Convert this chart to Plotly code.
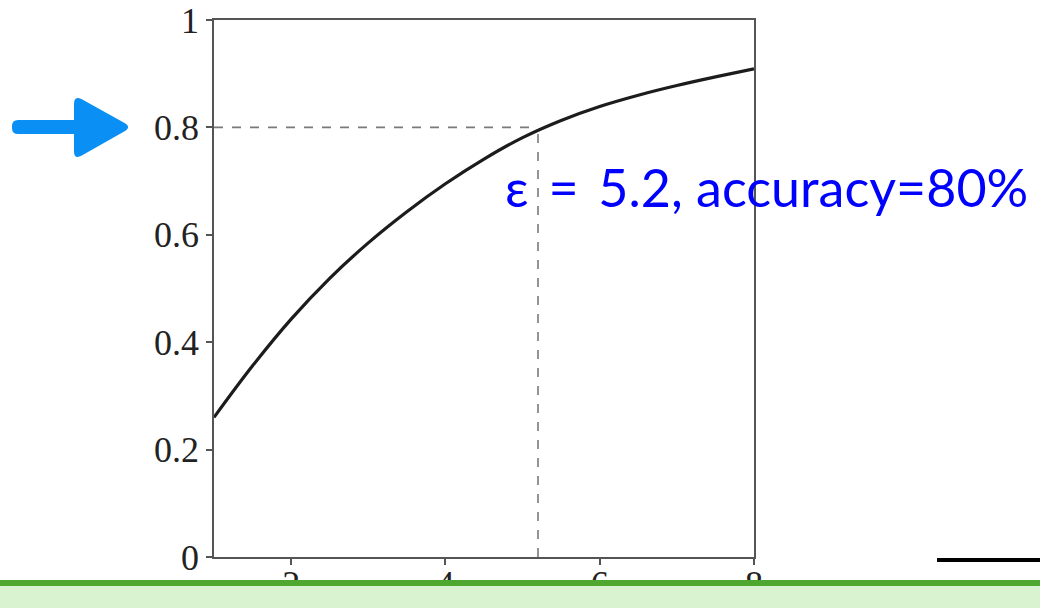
import plotly.graph_objects as go

# privacy budget vs. accuracy curve
eps = [1.0, 1.5, 2.0, 2.5, 3.0, 3.5, 4.0, 4.5, 5.0, 5.5, 6.0, 6.5, 7.0, 7.5, 8.0]
accuracy = [0.26, 0.356, 0.443, 0.519, 0.585, 0.643, 0.695, 0.741, 0.781, 0.813, 0.839, 0.86, 0.878, 0.894, 0.909]

# highlighted operating point
eps_mark = 5.2
acc_mark = 0.8
mark_label = "ε\u2009 = \u20095.2, accuracy=80%"

x_ticks = [2, 4, 6, 8]
y_ticks = [0, 0.2, 0.4, 0.6, 0.8, 1]

W, H = 1040, 608
L, R, T, B = 214, 754, 20, 557  # plot area in pixels


def px(x):
    return (x - L) / (R - L)


def py(y):
    return (B - y) / (B - T)


def rounded_poly(pts, r):
    # polygon with rounded corners (quadratic curves at each vertex)
    n = len(pts)
    segs = []
    for i in range(n):
        p0, p1, p2 = pts[i - 1], pts[i], pts[(i + 1) % n]

        def toward(a, b, d):
            dx, dy = b[0] - a[0], b[1] - a[1]
            ln = (dx * dx + dy * dy) ** 0.5
            return (a[0] + dx / ln * d, a[1] + dy / ln * d)

        segs.append((toward(p1, p0, r), p1, toward(p1, p2, r)))
    d = f"M {px(segs[0][0][0])},{py(segs[0][0][1])}"
    for k, (a, c, b) in enumerate(segs):
        if k > 0:
            d += f" L {px(a[0])},{py(a[1])}"
        d += f" Q {px(c[0])},{py(c[1])} {px(b[0])},{py(b[1])}"
    return d + " Z"


fig = go.Figure()
fig.add_trace(go.Scatter(
    x=eps, y=accuracy, mode="lines",
    line=dict(color="#1c1c1c", width=3.2, shape="spline"),
    hoverinfo="skip", showlegend=False,
))

shapes = [
    # dashed guides to the operating point
    dict(type="line", xref="x", yref="y", x0=eps[0], x1=eps_mark, y0=acc_mark, y1=acc_mark,
         line=dict(color="#7a7a7a", width=1.6, dash="dash")),
    dict(type="line", xref="x", yref="y", x0=eps_mark, x1=eps_mark, y0=0, y1=acc_mark,
         line=dict(color="#7a7a7a", width=1.6, dash="dash")),
    # pointer arrow: shaft and head
    dict(type="path", xref="paper", yref="paper", layer="above",
         path=rounded_poly([(12, 120), (80, 120), (80, 134), (12, 134)], 6),
         fillcolor="#0A8FF5", line=dict(width=0)),
    dict(type="path", xref="paper", yref="paper", layer="above",
         path=rounded_poly([(74, 95), (132, 127), (74, 160)], 9),
         fillcolor="#0A8FF5", line=dict(width=0)),
    # short rule at the lower right
    dict(type="line", xref="paper", yref="paper", layer="above",
         x0=px(937), x1=px(1040), y0=py(560), y1=py(560),
         line=dict(color="#000000", width=4)),
    # green footer band
    dict(type="rect", xref="paper", yref="paper", layer="above",
         x0=px(0), x1=px(W), y0=py(586), y1=py(H + 2),
         fillcolor="#D9F2D0", line=dict(width=0)),
    dict(type="rect", xref="paper", yref="paper", layer="above",
         x0=px(0), x1=px(W), y0=py(580), y1=py(586),
         fillcolor="#4EA72E", line=dict(width=0)),
]

axis_common = dict(
    showgrid=False, zeroline=False, showline=True, mirror=True, automargin=False,
    linecolor="#555555", linewidth=1.5,
    ticks="outside", ticklen=6, tickwidth=1.5, tickcolor="#555555",
    tickfont=dict(family="Liberation Serif", size=36, color="#222222"),
)

fig.update_layout(
    width=W, height=H,
    margin=dict(l=L, r=W - R, t=T, b=H - B, autoexpand=False),
    paper_bgcolor="white", plot_bgcolor="white",
    xaxis=dict(range=[1, 8], tickvals=x_ticks, ticktext=[str(v) for v in x_ticks],
               ticklabelstandoff=-12, **axis_common),
    yaxis=dict(range=[0, 1], tickvals=y_ticks, ticktext=[f"{v:g}" for v in y_ticks], **axis_common),
    shapes=shapes,
    annotations=[dict(
        xref="paper", yref="paper", x=px(503), y=py(187),
        xanchor="left", yanchor="middle", showarrow=False,
        text=mark_label, font=dict(family="Lato", size=52, color="#0000FF"),
    )],
)

fig.write_html("out.html")
